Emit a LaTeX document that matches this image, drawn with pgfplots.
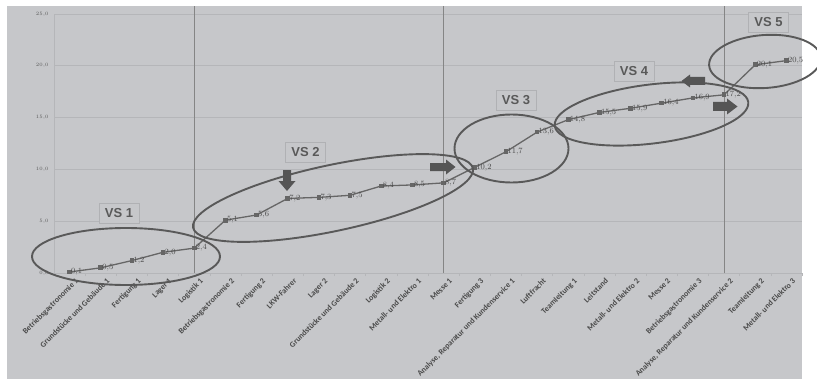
\documentclass[border=0pt]{standalone}
\usepackage{pgfplots}
\pgfplotsset{compat=1.18}
\usepackage{fontspec}
\setmainfont{Liberation Serif}
\newfontfamily\carlito{Carlito}
\newfontfamily\arialf{Liberation Sans}
\definecolor{bg}{HTML}{C6C7CA}
\definecolor{gridc}{HTML}{B5B6B9}
\definecolor{linec}{HTML}{666666}
\definecolor{ellc}{HTML}{595959}
\definecolor{arrc}{HTML}{555555}
\definecolor{labc}{HTML}{4A4A4A}
\definecolor{sepc}{HTML}{858585}
\definecolor{boxc}{HTML}{B0B1B4}
\begin{document}
\begin{tikzpicture}[x=1pt,y=1pt]
\path[use as bounding box] (0,0) rectangle (817,381);
\fill[white] (0,0) rectangle (817,381);
\fill[bg] (7,2) rectangle (802,375);
\begin{axis}[
  at={(54pt,108pt)}, anchor=south west,
  scale only axis, width=748pt, height=259pt,
  xmin=-0.5, xmax=23.5, ymin=0, ymax=25,
  clip=false,
  axis line style={draw=gridc, line width=0.6pt},
  axis x line*=bottom, axis y line*=left,
  ytick={0,5,10,15,20,25},
  ymajorgrids, major grid style={draw=gridc, line width=0.7pt},
  yticklabel style={font=\fontsize{3}{3}\selectfont, text=gray!70!black, xshift=-2pt},
  /pgf/number format/.cd, use comma, fixed, fixed zerofill, precision=1,
  /pgfplots/.cd,
  xtick={0,...,23},
  xticklabels={Betriebsgastronomie 1, Grundstücke und Gebäude 1, Fertigung 1, Lager 1, Logistik 1, Betriebsgastronomie 2, Fertigung 2, LKW-Fahrer, Lager 2, Grundstücke und Gebäude 2, Logistik 2, Metall- und Elektro 1, Messe 1, Fertigung 3, {Analyse, Reparatur und Kundenservice 1}, Luftfracht, Teamleitung 1, Leitstand, Metall- und Elektro 2, Messe 2, Betriebsgastronomie 3, {Analyse, Reparatur und Kundenservice 2}, Teamleitung 2, Metall- und Elektro 3},
  major tick length=0pt,
  minor xtick={-0.5,0.5,...,23.5},
  minor tick length=3pt, tick align=outside,
  minor tick style={draw=gridc, line width=0.6pt},
  ytick style={draw=none},
  xticklabel style={rotate=45, anchor=north east, font=\carlito\bfseries\fontsize{8}{8}\selectfont, text=labc, inner sep=1pt, xshift=1.5pt, yshift=-6pt},
]
\draw[sepc, line width=1pt] (axis cs:4,0) -- (axis cs:4,25.8);
\draw[sepc, line width=1pt] (axis cs:12,0) -- (axis cs:12,25.8);
\draw[sepc, line width=1pt] (axis cs:21,0) -- (axis cs:21,25.8);
\addplot[color=linec, line width=1.3pt, mark=square*, mark size=1.7pt, mark options={fill=linec, draw=linec},
  nodes near coords, point meta=explicit,
  every node near coord/.append style={anchor=west, font=\fontsize{8.5}{8.5}\selectfont, text=labc, inner sep=0.5pt, xshift=0.5pt, /pgf/number format/.cd, use comma, fixed, fixed zerofill, precision=1}]
coordinates {
(0,0.1) [0.1] (1,0.5) [0.5] (2,1.2) [1.2] (3,2.0) [2.0] (4,2.4) [2.4]
(5,5.1) [5.1] (6,5.6) [5.6] (7,7.2) [7.2] (8,7.3) [7.3] (9,7.5) [7.5]
(10,8.4) [8.4] (11,8.5) [8.5] (12,8.7) [8.7] (13,10.2) [10.2] (14,11.7) [11.7]
(15,13.6) [13.6] (16,14.8) [14.8] (17,15.5) [15.5] (18,15.9) [15.9] (19,16.4) [16.4]
(20,16.9) [16.9] (21,17.2) [17.2] (22,20.1) [20.1] (23,20.5) [20.5]
};
\end{axis}
\begin{scope}[shift={(0,381)}, yscale=-1]
  \tikzset{ell/.style={draw=ellc, line width=1.9pt}}
  \draw[ell] (126,256.5) ellipse (94 and 28.5);
  \draw[ell, rotate around={-12:(333,198)}] (333,198) ellipse (143 and 33);
  \draw[ell] (511.5,148.5) ellipse (57 and 34);
  \draw[ell, rotate around={-7:(651.5,114)}] (651.5,114) ellipse (97.5 and 29.5);
  \draw[ell, rotate around={-4:(765,61.5)}] (765,61.5) ellipse (56 and 26.5);
  % arrows
  \fill[arrc] (283,170) -- (291,170) -- (291,181) -- (295.5,181) -- (287,191) -- (278.5,181) -- (283,181) -- cycle;
  \fill[arrc] (430,163) -- (446,163) -- (446,159.5) -- (455.5,167) -- (446,174.5) -- (446,171) -- (430,171) -- cycle;
  \fill[arrc] (705,77) -- (690,77) -- (690,74.5) -- (681.5,81) -- (690,87.5) -- (690,85) -- (705,85) -- cycle;
  \fill[arrc] (713,102) -- (727,102) -- (727,98.5) -- (737.5,106.5) -- (727,114.5) -- (727,111) -- (713,111) -- cycle;
  % VS labels
  \tikzset{vs/.style={draw=boxc, line width=0.8pt, fill=bg, font=\arialf\bfseries\fontsize{13}{13}\selectfont, text=ellc, minimum width=40pt, minimum height=20pt, inner sep=2pt}}
  \node[vs] at (119,213) {VS 1};
  \node[vs] at (305.5,152) {VS 2};
  \node[vs] at (516,100) {VS 3};
  \node[vs] at (634,71) {VS 4};
  \node[vs] at (768.5,22) {VS 5};
\end{scope}
\end{tikzpicture}
\end{document}
